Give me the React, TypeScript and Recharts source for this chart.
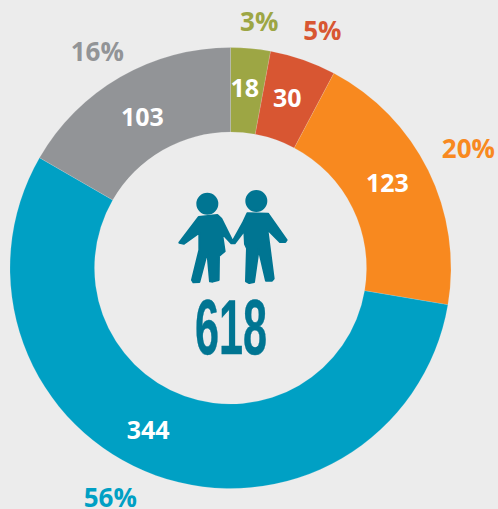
import { Cell, Pie, PieChart } from "recharts";

const counts = [18, 30, 123, 344, 103];
const shares = ["3%", "5%", "20%", "56%", "16%"];
const colors = ["#9da644", "#d85632", "#f8891f", "#00a0c4", "#929497"];
const total = "618";

const pieData = counts.map((value, i) => ({ value, share: shares[i] }));

// hand nudges, the labels in the original are not quite on the radial
const inNudge = [
  [-2, -3],
  [-2, -3],
  [-3, -7],
  [-22, -7],
  [1, 2],
];
const outNudge = [
  [6, 0],
  [10, -3],
  [15, -10],
  [-36, -5],
  [-9, -2],
];

const RAD = Math.PI / 180;
const font = "'Open Sans', sans-serif";
const outGap = 28;

function SliceLabels(props: any) {
  const { cx, cy, midAngle, innerRadius, outerRadius, index, value, share, fill } = props;
  const cos = Math.cos(midAngle * RAD);
  const sin = Math.sin(midAngle * RAD);
  const rIn = (innerRadius + outerRadius) / 2;
  const rOut = outerRadius + outGap;
  return (
    <g>
      <text
        x={cx + rIn * cos + inNudge[index][0]}
        y={cy - rIn * sin + inNudge[index][1]}
        textAnchor="middle"
        dominantBaseline="central"
        fontFamily={font}
        fontWeight={700}
        fontSize={25}
        fill="#ffffff"
      >
        {value}
      </text>
      <text
        x={cx + rOut * cos + outNudge[index][0]}
        y={cy - rOut * sin + outNudge[index][1]}
        textAnchor="middle"
        dominantBaseline="central"
        fontFamily={font}
        fontWeight={700}
        fontSize={26}
        fill={fill}
      >
        {share}
      </text>
    </g>
  );
}

export default function App() {
  return (
    <div style={{ position: "absolute", left: 0, top: 0, width: 498, height: 509, background: "#ececec", overflow: "hidden" }}>
      <PieChart width={498} height={509} margin={{ top: 0, right: 0, bottom: 0, left: 0 }}>
        <Pie
          data={pieData}
          dataKey="value"
          cx={230.5}
          cy={268}
          innerRadius={136}
          outerRadius={220.5}
          startAngle={90}
          endAngle={-270}
          stroke="#ececec"
          strokeWidth={0.5}
          strokeOpacity={0.3}
          label={SliceLabels}
          labelLine={false}
          isAnimationActive={false}
        >
          {counts.map((_, i) => (
            <Cell key={i} fill={colors[i]} />
          ))}
        </Pie>
        <g transform="translate(160,170) scale(0.3333)" fill="#007592" stroke="#007592" strokeWidth={6} strokeLinejoin="round">
          <circle cx={142} cy={101} r={30} />
          <circle cx={289} cy={93} r={30} />
          <path d="M116 141 L172 135 L184 146 L218 214 L248 160 L262 130 L324 131 L380 210 L376 216 L360 216 L322 178 L341 326 L336 332 L318 332 L296 238 L282 336 L268 339 L258 334 L261 235 L255 222 L253 182 L224 220 L214 220 L186 190 L194 244 L177 258 L176 330 L158 335 L150 334 L142 245 L118 336 L100 337 L96 330 L118 240 L118 188 L72 221 L58 218 Z" />
        </g>
        <text
          x={231}
          y={354}
          textAnchor="middle"
          fontFamily="'Liberation Sans Narrow', sans-serif"
          fontWeight={700}
          fontSize={78}
          textLength={72}
          lengthAdjust="spacingAndGlyphs"
          stroke="#007592"
          strokeWidth={0.5}
          fill="#007592"
        >
          {total}
        </text>
      </PieChart>
    </div>
  );
}
